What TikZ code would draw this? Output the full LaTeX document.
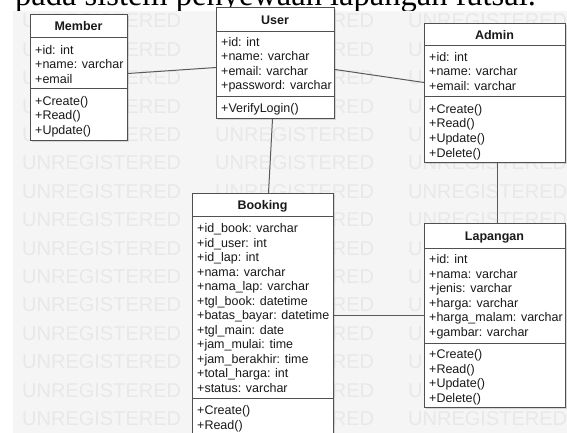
\documentclass[tikz,border=0pt]{standalone}
\usepackage{fontspec}
\setmainfont{Liberation Sans}
\newfontfamily\captionserif{Liberation Serif}
\usetikzlibrary{shadows}
\definecolor{bgcol}{RGB}{245,245,245}
\definecolor{wmcol}{RGB}{232,232,232}
\definecolor{boxline}{RGB}{80,80,80}
\definecolor{linkcol}{RGB}{90,90,90}
\definecolor{textcol}{RGB}{25,25,25}

\begin{document}
\begin{tikzpicture}[x=1pt,y=-1pt,
    class box/.style={draw=boxline,fill=white,line width=1pt,anchor=north west,inner sep=0pt,
      drop shadow={shadow xshift=1.5pt,shadow yshift=-1.5pt,opacity=0.25}},
    box line/.style={draw=boxline,line width=1pt},
    title text/.style={font=\fontsize{12.5}{14.5}\selectfont\bfseries,text=textcol,inner sep=0pt,anchor=base},
    field text/.style={font=\fontsize{12.5}{14.5}\selectfont,text=textcol,inner sep=0pt,anchor=base west,align=left},
    watermark text/.style={font=\fontsize{20}{20}\selectfont,text=wmcol,inner sep=0pt,anchor=west},
    caption text/.style={font=\captionserif\fontsize{32.5}{34}\selectfont,inner sep=0pt,anchor=south west},
    link/.style={draw=linkcol,line width=1pt}]
  \useasboundingbox (0,0) rectangle (567,433);
  \clip (0,0) rectangle (567,433);
  \fill[white] (0,0) rectangle (567,433);
  \node[caption text] (caption) at (15,12.5) {pada sistem penyewaan lapangan futsal.};
  \fill[bgcol] (13,11) rectangle (567,433);
  \foreach \r in {0,...,14}
    \foreach \c in {0,1,2}
      \node[watermark text] (wm-\r-\c) at (22+193*\c,21+28.4*\r) {UNREGISTERED};

  % Member
  \node[class box,minimum width=97pt,minimum height=126pt] (member) at (30,14) {};
  \node[title text] (member title) at (78.5,31) {Member};
  \draw[box line] (30,38) -- (127,38) (30,89) -- (127,89);
  \node[field text] (member attr) at (35,83.5) {+id: int\\+name: varchar\\+email};
  \node[field text] (member ops) at (35,134.5) {+Create()\\+Read()\\+Update()};

  % User
  \node[class box,minimum width=118pt,minimum height=111pt] (user) at (216,7) {};
  \node[title text] (user title) at (275,24.5) {User};
  \draw[box line] (216,32) -- (334,32) (216,97) -- (334,97);
  \node[field text] (user attr) at (221,90) {+id: int\\+name: varchar\\+email: varchar\\+password: varchar};
  \node[field text] (user ops) at (221,112.5) {+VerifyLogin()};

  % Admin
  \node[class box,minimum width=141pt,minimum height=139pt] (admin) at (424,23) {};
  \node[title text] (admin title) at (494.5,39.5) {Admin};
  \draw[box line] (424,46) -- (565,46) (424,97) -- (565,97);
  \node[field text] (admin attr) at (429,90.5) {+id: int\\+name: varchar\\+email: varchar};
  \node[field text] (admin ops) at (429,157) {+Create()\\+Read()\\+Update()\\+Delete()};

  % Booking
  \node[class box,minimum width=141pt,minimum height=252pt] (booking) at (192,193) {};
  \node[title text] (booking title) at (262.5,209.5) {Booking};
  \draw[box line] (192,216) -- (333,216) (192,398) -- (333,398);
  \node[field text] (booking attr) at (197,392) {+id\_book: varchar\\+id\_user: int\\+id\_lap: int\\+nama: varchar\\+nama\_lap: varchar\\+tgl\_book: datetime\\+batas\_bayar: datetime\\+tgl\_main: date\\+jam\_mulai: time\\+jam\_berakhir: time\\+total\_harga: int\\+status: varchar};
  \node[field text] (booking ops) at (197,443.5) {+Create()\\+Read()\\+Update()};

  % Lapangan
  \node[class box,minimum width=141pt,minimum height=184pt] (lapangan) at (424,223) {};
  \node[title text] (lapangan title) at (494.5,240.5) {Lapangan};
  \draw[box line] (424,248) -- (565,248) (424,343) -- (565,343);
  \node[field text] (lapangan attr) at (429,336) {+id: int\\+nama: varchar\\+jenis: varchar\\+harga: varchar\\+harga\_malam: varchar\\+gambar: varchar};
  \node[field text] (lapangan ops) at (429,402) {+Create()\\+Read()\\+Update()\\+Delete()};

  % relations
  \draw[link] ([yshift=4pt]member.east) -- ([yshift=-4.5pt]user.west);
  \draw[link] ([yshift=-6.5pt]user.east) -- ([yshift=10.5pt]admin.west);
  \draw[link] ([xshift=-3pt]user.south) -- ([xshift=5.5pt]booking.north);
  \draw[link] ([xshift=2.5pt]admin.south) -- ([xshift=2.5pt]lapangan.north);
  \draw[link] (booking.east |- lapangan.west) -- (lapangan.west);
\end{tikzpicture}
\end{document}
